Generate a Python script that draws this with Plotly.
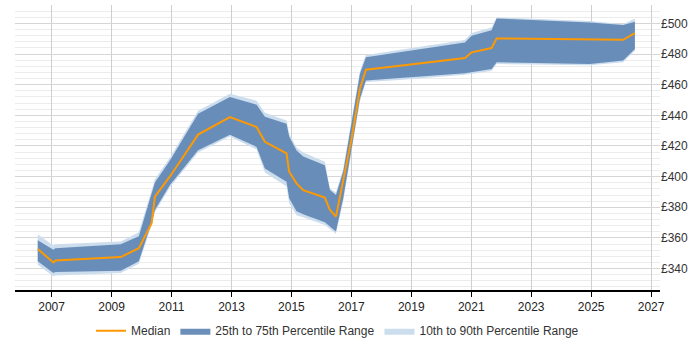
import plotly.graph_objects as go

dates = ["2006-07-16", "2007-01-23", "2007-02-16", "2009-04-23", "2009-11-29",
         "2010-05-04", "2010-06-13", "2010-12-13", "2011-11-21", "2012-12-13",
         "2013-11-03", "2014-02-12", "2014-11-03", "2014-12-05", "2015-03-05",
         "2015-05-25", "2016-02-13", "2016-04-15", "2016-06-27", "2016-09-24",
         "2017-01-04", "2017-04-15", "2017-06-27", "2018-08-15", "2020-10-16",
         "2021-01-06", "2021-09-06", "2021-11-06", "2024-12-16", "2026-01-26",
         "2026-06-18"]

median = [352.7, 344.0, 345.2, 347.5, 353.3, 369.6, 386.9, 400.1, 427.4, 438.9,
          432.4, 422.7, 415.1, 403.2, 395.6, 391.2, 386.3, 378.2, 373.9, 396.7,
          424.8, 457.3, 469.8, 472.4, 477.4, 481.1, 483.9, 490.2, 489.6, 489.3,
          493.7]

p75 = [358.5, 352.2, 353.3, 355.9, 361.1, 387.8, 396.2, 410.5, 441.0, 451.9,
       446.9, 439.1, 434.5, 426.1, 417.0, 413.1, 407.4, 391.2, 388.0, 403.4,
       434.5, 467.0, 477.9, 481.3, 487.6, 491.9, 495.6, 503.2, 500.6, 498.9,
       501.0]

p25 = [344.7, 337.1, 337.7, 338.6, 344.7, 370.2, 378.2, 394.5, 417.2, 427.4,
       419.4, 405.3, 396.7, 385.8, 377.4, 375.4, 370.2, 367.4, 364.2, 385.8,
       417.0, 450.8, 462.7, 464.3, 467.5, 468.0, 470.3, 474.6, 473.5, 475.7,
       483.3]

p90 = [362.4, 355.1, 355.9, 357.7, 363.7, 390.4, 398.2, 412.5, 443.0, 454.0,
       449.5, 441.7, 436.7, 428.0, 419.0, 415.7, 409.7, 392.3, 389.7, 405.3,
       436.5, 469.0, 479.4, 482.6, 489.1, 493.7, 497.3, 503.9, 501.5, 499.5,
       503.2]

p10 = [342.5, 334.9, 335.5, 337.1, 343.2, 368.3, 376.7, 393.0, 415.7, 426.1,
       417.7, 402.7, 393.6, 382.6, 374.8, 373.5, 368.5, 365.7, 362.7, 383.9,
       415.1, 448.8, 461.8, 463.1, 466.4, 466.7, 469.0, 473.5, 472.6, 474.6,
       482.2]

y_ticks = [340, 360, 380, 400, 420, 440, 460, 480, 500]
y_tick_labels = ["£%d" % v for v in y_ticks]

fig = go.Figure()

fig.add_trace(go.Scatter(
    x=dates + dates[::-1], y=p90 + p10[::-1],
    fill="toself", fillcolor="rgb(204,221,238)", mode="lines",
    line=dict(width=0, color="rgb(204,221,238)"), hoverinfo="skip",
    name="10th to 90th Percentile Range", legendrank=3))

fig.add_trace(go.Scatter(
    x=dates + dates[::-1], y=p75 + p25[::-1],
    fill="toself", fillcolor="rgba(96,134,180,0.92)", mode="lines",
    line=dict(width=0, color="rgb(108,143,184)"), hoverinfo="skip",
    name="25th to 75th Percentile Range", legendrank=2))

fig.add_trace(go.Scatter(
    x=dates, y=median, mode="lines",
    line=dict(color="rgb(255,153,0)", width=2),
    name="Median", legendrank=1))

fig.update_layout(
    width=700, height=350,
    margin=dict(l=15, r=40, t=5, b=58),
    paper_bgcolor="white", plot_bgcolor="white",
    font=dict(family="Liberation Sans, Arial, sans-serif", size=12, color="#333"),
    showlegend=True,
    legend=dict(orientation="h", x=0.5, xanchor="center", y=-0.143, yanchor="middle",
                font=dict(size=12, color="#333"), itemwidth=30,
                traceorder="normal"),
    xaxis=dict(
        type="date", range=["2005-10-12", "2027-04-20"],
        tick0="2007-01-01", dtick="M24", tickformat="%Y",
        showgrid=True, gridcolor="#cfcfcf", gridwidth=1,
        showline=True, linecolor="#000", linewidth=1.5,
        ticks="outside", ticklen=5, tickcolor="#000",
        tickfont=dict(size=12, color="#222"), zeroline=False),
    yaxis=dict(
        range=[326, 512], side="right",
        tickvals=y_ticks, ticktext=y_tick_labels,
        showgrid=True, gridcolor="#d6d6d6", gridwidth=1,
        minor=dict(dtick=4, showgrid=True, gridcolor="#ececec", gridwidth=1),
        showline=False, zeroline=False, ticks="",
        tickfont=dict(size=12, color="#333")),
)

fig.write_html("out.html")
